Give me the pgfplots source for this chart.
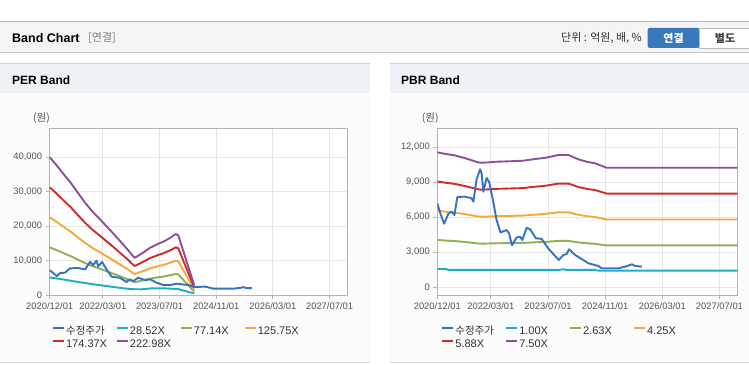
\documentclass[border=0pt]{standalone}
\usepackage{pgfplots}
\pgfplotsset{compat=1.18}
\usepackage{fontspec}
\setmainfont{Liberation Sans}
\newfontfamily\kr{Noto Sans CJK KR}
\definecolor{cPrice}{HTML}{3572C4}
\definecolor{cC}{HTML}{1BAFC6}
\definecolor{cG}{HTML}{8DB24E}
\definecolor{cO}{HTML}{F5A93A}
\definecolor{cR}{HTML}{D12B2B}
\definecolor{cP}{HTML}{8E4E9C}
\definecolor{gridc}{HTML}{E6E6E6}
\definecolor{framec}{HTML}{B4B4B4}
\definecolor{tickc}{HTML}{555555}
\definecolor{legc}{HTML}{333333}
\definecolor{hdr}{HTML}{F4F4F4}
\definecolor{phdr}{HTML}{EEF2F7}
\definecolor{pbody}{HTML}{FBFBFB}
\definecolor{btnblue}{HTML}{3A78BE}
\definecolor{lineA}{HTML}{C4C4C4}
\definecolor{lineB}{HTML}{D0D0D0}
\definecolor{lineC}{HTML}{D8D8D8}
\definecolor{btnbd}{HTML}{BBBBBB}
\definecolor{btntx}{HTML}{444444}
\pgfplotsset{bandax/.style={
  scale only axis, height=166.7pt,
  xmin=0, xmax=84,
  xtick={0,15,31,47,63,79},
  xticklabels={2020/12/01,2022/03/01,2023/07/01,2024/11/01,2026/03/01,2027/07/01},
  grid=major, major grid style={draw=gridc, line width=0.8pt},
  axis line style={draw=framec, line width=1pt},
  tick style={draw=framec, line width=0.8pt},
  tick align=outside, major tick length=4pt, tick pos=left,
  tick label style={font=\fontsize{9.4}{10}\selectfont, text=tickc},
  scaled y ticks=false,
  /pgf/number format/assume math mode=true,
  yticklabel style={/pgf/number format/.cd, fixed, 1000 sep={,}},
  axis background/.style={fill=white},
  every axis plot/.append style={line width=1.9pt, line join=round, no markers},
  legend columns=4,
  legend cell align=left,
  legend style={draw=none, fill=none, inner sep=0pt,
    font=\fontsize{11}{13}\selectfont, text=legc,
    anchor=north west,
    nodes={inner sep=1pt, text height=8pt, text depth=2.5pt},
    row sep=0.8pt, column sep=0pt},
  legend image code/.code={\draw[#1, line width=1.9pt] (0pt,3.5pt) -- (11pt,3.5pt);},
}}
\begin{document}
\begin{tikzpicture}
\fill[white] (0pt,0pt) rectangle (749pt,364pt);
% top header
\fill[hdr] (0pt,311pt) rectangle (749pt,342pt);
\draw[framec, line width=1pt] (0pt,342pt) -- (749pt,342pt);
\draw[lineA, line width=1pt] (0pt,311pt) -- (749pt,311pt);
\node[anchor=west, inner sep=0pt, font=\bfseries\fontsize{12.5}{14}\selectfont] at (12pt,326pt) {Band Chart};
\node[anchor=west, inner sep=0pt, text=gray, font=\kr\fontsize{11}{13}\selectfont] at (88pt,326pt) {[연결]};
\node[anchor=east, inner sep=0pt, text=legc, font=\kr\fontsize{11}{13}\selectfont] at (642pt,326pt) {단위 : 억원, 배, \%};
\fill[btnblue, rounded corners=2pt] (647.7pt,316pt) rectangle (699.3pt,336pt);
\node[text=white, inner sep=0pt, font=\kr\bfseries\fontsize{11}{13}\selectfont] at (673.5pt,326pt) {연결};
\draw[btnbd, fill=white, line width=0.8pt] (699.3pt,316pt) rectangle (752pt,336pt);
\node[text=btntx, inner sep=0pt, font=\kr\bfseries\fontsize{11}{13}\selectfont] at (725pt,326pt) {별도};
% panels
\fill[pbody] (0pt,1.3pt) rectangle (370pt,300pt);
\fill[phdr] (0pt,271.3pt) rectangle (370pt,300pt);
\draw[lineB, line width=1pt] (0pt,300pt) -- (370pt,300pt);
\draw[lineC, line width=1pt] (0pt,1.3pt) -- (370pt,1.3pt);
\fill[pbody] (389.7pt,1.3pt) rectangle (749pt,300pt);
\fill[phdr] (389.7pt,271.3pt) rectangle (749pt,300pt);
\draw[lineB, line width=1pt] (389.7pt,300pt) -- (749pt,300pt);
\draw[lineC, line width=1pt] (389.7pt,1.3pt) -- (749pt,1.3pt);
\node[anchor=west, inner sep=0pt, font=\bfseries\fontsize{12}{14}\selectfont] at (12pt,284pt) {PER Band};
\node[anchor=west, inner sep=0pt, font=\bfseries\fontsize{12}{14}\selectfont] at (401pt,284pt) {PBR Band};
\node[anchor=west, inner sep=0pt, text=tickc, font=\kr\fontsize{10.5}{12}\selectfont] at (33pt,246pt) {(원)};
\node[anchor=west, inner sep=0pt, text=tickc, font=\kr\fontsize{10.5}{12}\selectfont] at (421.7pt,246pt) {(원)};

% PER
\begin{axis}[bandax, at={(49.7pt,69pt)}, anchor=south west, width=297.6pt,
  ymin=0, ymax=48400, ytick={0,10000,20000,30000,40000},
  legend style={at={(axis description cs:0.0077,-0.18)}}]
\addlegendimage{cPrice}\addlegendentry{\makebox[49pt][l]{\kr\fontsize{10.5}{12}\selectfont 수정주가}}
\addlegendimage{cC}\addlegendentry{\makebox[49pt][l]{28.52X}}
\addlegendimage{cG}\addlegendentry{\makebox[49pt][l]{77.14X}}
\addlegendimage{cO}\addlegendentry{\makebox[49pt][l]{125.75X}}
\addlegendimage{cR}\addlegendentry{\makebox[49pt][l]{174.37X}}
\addlegendimage{cP}\addlegendentry{\makebox[49pt][l]{222.98X}}
\addplot[cC, forget plot] coordinates {(0,5120)(4,4480)(8,3790)(12,3150)(16,2600)(20,2050)(23,1700)(26,1650)(28.3,1900)(32,1950)(36.3,1700)(40.8,450)};
\addplot[cG, forget plot] coordinates {(0,13840)(2,13010)(4,12110)(6,11250)(8,10240)(10,9273)(12,8408)(14,7681)(16,6920)(18,6159)(20,5363)(22,4567)(23.9,3737)(24.5,3841)(26.5,4290)(28.3,4740)(30.5,5121)(32.3,5398)(34,5744)(35.6,6124)(36.3,5986)(40.8,969)};
\addplot[cO, forget plot] coordinates {(0,22560)(2,21210)(4,19740)(6,18330)(8,16690)(10,15110)(12,13700)(14,12520)(16,11280)(18,10040)(20,8742)(22,7445)(23.9,6091)(24.5,6260)(26.5,6994)(28.3,7727)(30.5,8347)(32.3,8798)(34,9362)(35.6,9983)(36.3,9757)(40.8,1579)};
\addplot[cR, forget plot] coordinates {(0,31280)(2,29400)(4,27370)(6,25420)(8,23150)(10,20960)(12,19000)(14,17360)(16,15640)(18,13920)(20,12120)(22,10320)(23.9,8446)(24.5,8680)(26.5,9697)(28.3,10710)(30.5,11570)(32.3,12200)(34,12980)(35.6,13840)(36.3,13530)(40.8,2190)};
\addplot[cP, forget plot] coordinates {(0,40000)(2,37600)(4,35000)(6,32500)(8,29600)(10,26800)(12,24300)(14,22200)(16,20000)(18,17800)(20,15500)(22,13200)(23.9,10800)(24.5,11100)(26.5,12400)(28.3,13700)(30.5,14800)(32.3,15600)(34,16600)(35.6,17700)(36.3,17300)(40.8,2800)};
\addplot[cPrice, forget plot] coordinates {(0,7200)(2,5500)(3,6400)(4.3,6470)(5.7,7720)(8,7850)(10,7430)(11.4,9650)(12.3,8670)(13.2,10000)(13.7,8300)(14.8,9600)(16,7500)(17.5,5300)(19.8,5000)(21.7,3760)(22.6,4540)(23.6,4050)(25,5030)(26.9,4300)(28.3,4540)(30.2,3580)(32.1,2890)(34,2890)(35.9,3290)(37.3,3090)(39.2,2890)(40.8,2310)(43.9,2430)(46.2,1850)(51.9,1850)(54.2,2140)(54.7,2300)(55.5,2000)(57.1,2000)};
\end{axis}

% PBR
\begin{axis}[bandax, at={(437.3pt,69pt)}, anchor=south west, width=300pt,
  ymin=-660, ymax=13630, ytick={0,3000,6000,9000,12000},
  legend style={at={(axis description cs:0.0133,-0.18)}}]
\addlegendimage{cPrice}\addlegendentry{\makebox[49pt][l]{\kr\fontsize{10.5}{12}\selectfont 수정주가}}
\addlegendimage{cC}\addlegendentry{\makebox[49pt][l]{1.00X}}
\addlegendimage{cG}\addlegendentry{\makebox[49pt][l]{2.63X}}
\addlegendimage{cO}\addlegendentry{\makebox[49pt][l]{4.25X}}
\addlegendimage{cR}\addlegendentry{\makebox[49pt][l]{5.88X}}
\addlegendimage{cP}\addlegendentry{\makebox[49pt][l]{7.50X}}
\addplot[cC, forget plot] coordinates {(0,1570)(2.5,1570)(3,1490)(34,1490)(35.3,1550)(36,1490)(44,1490)(45,1430)(84,1430)};
\addplot[cG, forget plot] coordinates {(0,4057)(2,4015)(5,3963)(8,3875)(11,3770)(12,3745)(14,3752)(16.2,3773)(20,3787)(24,3805)(27.4,3857)(30.2,3892)(33.9,3977)(36.7,3977)(39.5,3847)(42,3770)(44.2,3728)(47.4,3594)(84,3594)};
\addplot[cO, forget plot] coordinates {(0,6557)(2,6488)(5,6403)(8,6262)(11,6092)(12,6052)(14,6063)(16.2,6097)(20,6120)(24,6148)(27.4,6233)(30.2,6290)(33.9,6426)(36.7,6426)(39.5,6216)(42,6092)(44.2,6024)(47.4,5808)(84,5808)};
\addplot[cR, forget plot] coordinates {(0,9071)(2,8977)(5,8859)(8,8663)(11,8428)(12,8373)(14,8389)(16.2,8436)(20,8467)(24,8506)(27.4,8624)(30.2,8702)(33.9,8891)(36.7,8891)(39.5,8600)(42,8428)(44.2,8334)(47.4,8036)(84,8036)};
\addplot[cP, forget plot] coordinates {(0,11570)(2,11450)(5,11300)(8,11050)(11,10750)(12,10680)(14,10700)(16.2,10760)(20,10800)(24,10850)(27.4,11000)(30.2,11100)(33.9,11340)(36.7,11340)(39.5,10970)(42,10750)(44.2,10630)(47.4,10250)(84,10250)};
\addplot[cPrice, forget plot] coordinates {(0,7200)(0.84,6340)(1.9,5450)(3.1,6300)(4,6480)(4.8,6200)(5.6,7740)(7.8,7770)(9.6,7630)(10.1,7340)(11,9250)(12,10120)(12.4,9770)(12.9,8190)(13.8,9370)(14.5,9050)(15.5,7600)(16.6,5770)(17.7,4700)(19.4,4910)(20.1,4630)(20.9,3600)(22.2,4270)(23.2,4340)(23.8,4050)(25,5100)(26,4970)(27.6,4200)(29.2,4150)(31.1,3320)(34,2340)(35.3,2770)(36.2,2850)(36.9,3260)(38.6,2770)(42.3,2060)(45.1,1830)(46,1630)(50.7,1630)(52.6,1770)(54.5,1970)(55.4,1830)(57.3,1770)};
\end{axis}
\pgfresetboundingbox
\useasboundingbox (0pt,0pt) rectangle (749pt,364pt);
\end{tikzpicture}
\end{document}
